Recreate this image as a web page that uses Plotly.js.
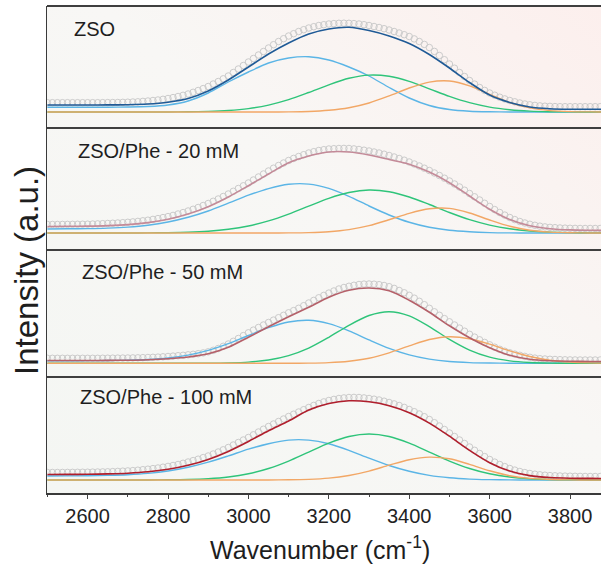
<!DOCTYPE html>
<html>
<head>
<meta charset="utf-8">
<script src="https://cdn.plot.ly/plotly-3.0.1.min.js"></script>
<style>
  html, body { margin: 0; padding: 0; background: #ffffff; }
  #chart { width: 601px; height: 565px; }
</style>
</head>
<body>
<div id="chart"></div>
<script>
// Wavenumber grids (cm^-1): measured points and fitted curves
const wnData = [2500,2512.5,2525,2537.5,2550,2562.5,2575,2587.5,2600,2612.5,2625,2637.5,2650,2662.5,2675,2687.5,
  2700,2712.5,2725,2737.5,2750,2762.5,2775,2787.5,2800,2812.5,2825,2837.5,2850,2862.5,2875,2887.5,
  2900,2912.5,2925,2937.5,2950,2962.5,2975,2987.5,3000,3012.5,3025,3037.5,3050,3062.5,3075,3087.5,
  3100,3112.5,3125,3137.5,3150,3162.5,3175,3187.5,3200,3212.5,3225,3237.5,3250,3262.5,3275,3287.5,
  3300,3312.5,3325,3337.5,3350,3362.5,3375,3387.5,3400,3412.5,3425,3437.5,3450,3462.5,3475,3487.5,
  3500,3512.5,3525,3537.5,3550,3562.5,3575,3587.5,3600,3612.5,3625,3637.5,3650,3662.5,3675,3687.5,
  3700,3712.5,3725,3737.5,3750,3762.5,3775,3787.5,3800,3812.5,3825,3837.5,3850,3862.5,3875];
const wnFit = [2500,2550,2600,2650,2700,2750,2800,2850,2900,2950,3000,3050,3100,3150,3200,3250,3300,3350,3400,3450,
               3500,3550,3600,3650,3700,3750,3800,3850,3900];

const sampleNames = ["ZSO", "ZSO/Phe - 20 mM", "ZSO/Phe - 50 mM", "ZSO/Phe - 100 mM"];
const tickValues = [2600, 2800, 3000, 3200, 3400, 3600, 3800];
const tickLabels = ["2600", "2800", "3000", "3200", "3400", "3600", "3800"];

// ZSO
const zsoData = [9.3,9.3,9.3,9.3,9.3,9.3,9.3,9.3,9.3,9.3,9.3,9.35,9.4,9.45,9.5,9.65,
  9.8,10,10.2,10.6,11,11.5,12,12.7,13.5,14.4,15.5,16.7,18,19.7,21.5,23.4,
  25.5,28,30.5,33.2,36,39.5,43,46.5,50,53.5,57,60.5,64,67.3,70.5,73.3,
  76,78.3,80.5,82.3,84,85.3,86.5,87.3,88,88.4,88.7,88.8,88.7,88.4,88,87.3,
  86.5,85.5,84.5,83.3,82,80.5,79,77.3,75.5,73.1,70.5,67.6,64.5,60.6,56.5,52.3,
  48,43.8,39.5,35.5,31.5,27.9,24.5,21.6,19,16.8,14.8,13.1,11.5,10.2,9,8,
  7.2,6.6,6.1,5.8,5.6,5.4,5.3,5.3,5.3,5.3,5.3,5.3,5.3,5.3,5.3];
const zsoFit = [7,7,7,7.1,7.3,8,9.8,13.5,21,32,45,58,69,78,83,84.7,81.5,76,68.5,57.5,44,29.5,17,9.5,5,3.3,2.8,2.7,2.7];
const zsoPeak1 = [4.7,4.7,4.7,4.8,5.0,5.5,7,11,19,30,40,49,54,55.3,52,45,36,24.5,14,6.5,2.5,0.8,0.2,0,0,0,0,0,0];
const zsoPeak2 = [0,0,0,0,0,0,0,0.2,0.6,1.5,3.4,6.9,12.3,19.5,27.2,33.7,36.9,35.7,30.6,23.2,15.6,9.3,4.9,2.3,0.9,0.3,0.1,0,0];
const zsoPeak3 = [0,0,0,0,0,0,0,0,0,0,0,0,0.1,0.5,1.7,4.2,9.0,16.1,24.0,29.9,31.0,26.1,17.6,9.5,4.1,1.4,0.4,0.1,0];

// ZSO/Phe - 20 mM
const phe20Data = [8.5,8.5,8.5,8.55,8.6,8.65,8.7,8.75,8.8,8.95,9.1,9.3,9.5,9.75,10,10.3,
  10.7,11.1,11.6,12.2,12.8,13.6,14.4,15.4,16.4,17.6,19,20.4,22,23.7,25.5,27.5,
  29.5,31.7,34,36.5,39,41.7,44.5,47.2,50,53,56,59,62,64.8,67.5,70,
  72.5,74.6,76.5,78.3,80,81.3,82.5,83.3,84,84.3,84.5,84.6,84.5,84.1,83.5,82.8,
  82,81,80,78.8,77.5,76,74.5,72.8,71,69,67,64.8,62.5,60,57.5,54.8,
  52,49,46,42.8,39.5,36.2,33,29.7,26.5,23.4,20.5,17.9,15.5,13.4,11.5,10,
  8.7,7.7,6.8,6.1,5.6,5.3,5,4.85,4.7,4.6,4.5,4.5,4.5,4.5,4.5];
const phe20Fit = [6.5,6.7,6.9,7.4,8.4,10.4,13.8,19.0,26.3,36.0,47.3,59.0,70.2,77,81,81,78,73.5,68.8,60.9,50.3,37.0,23.8,13.5,7.3,4.3,3.1,2.7,2.5];
const phe20Peak1 = [4.0,4.2,4.4,4.9,5.9,7.8,11.0,15.7,22.0,29.8,37.8,44.4,48.7,48.9,44.6,36.7,27.0,18.0,10.7,5.7,2.7,1.2,0.4,0.1,0,0,0,0,0];
const phe20Peak2 = [0,0,0,0,0.03,0.1,0.3,0.75,1.75,3.7,7.0,12.1,18.9,26.9,34.7,40.5,43.0,41.3,36.0,28.5,20.5,13.3,7.9,4.2,2.0,0.9,0.4,0.13,0];
const phe20Peak3 = [0,0,0,0,0,0,0,0,0,0,0,0.02,0.1,0.4,1.3,3.4,7.3,13.2,19.6,24.2,24.6,20.0,13.0,6.7,2.8,0.9,0.24,0.05,0];

// ZSO/Phe - 50 mM
const phe50Data = [5,5,5,5,5,5,5,5,5,5,5,5.05,5.1,5.15,5.2,5.25,
  5.3,5.4,5.5,5.65,5.8,6,6.2,6.5,6.8,7.2,7.6,8,8.5,9,9.6,10.4,
  11.5,13,14.8,17,19.3,22,24.8,27.7,30.5,33.2,35.8,38.3,40.8,43.2,45.6,48,
  50.5,52.7,55,57.6,60.3,62.9,65.5,67.9,70.2,72.3,74.3,75.8,77,78,78.8,79.2,
  79.3,79.1,78.6,77.8,76.6,74.9,72.8,70.5,68,65.1,62,58.6,55,51.5,48,44.7,
  41.5,38.3,35.2,32.1,29,26.2,23.5,20.9,18.5,16.1,14,12.1,10.5,9.2,8,6.9,
  6,5.2,4.6,4.3,4,3.8,3.6,3.5,3.4,3.35,3.3,3.3,3.3,3.3,3.3];
const phe50Fit = [2.8,2.8,2.8,2.9,3.1,3.6,4.6,6.3,9.5,16,26,36.5,46.5,56,66,73,75.3,72.5,63,51,37.5,25.5,15.5,8,4,2.5,2,1.8,1.8];
const phe50Peak1 = [2.6,2.6,2.65,2.8,3.1,3.8,5.3,8.2,12.9,19.7,27.8,35.6,41.3,43.0,39.7,32.5,23.4,14.9,8.4,4.2,1.8,0.7,0.24,0.07,0,0,0,0,0];
const phe50Peak2 = [0,0,0,0,0,0,0,0.03,0.1,0.4,1.2,3.3,7.7,15.2,26.0,38.0,47.8,51.6,47.4,36.7,23.9,13.2,6.1,2.4,0.8,0.2,0.05,0,0];
const phe50Peak3 = [0,0,0,0,0,0,0,0,0,0,0,0,0.04,0.19,0.7,2.1,5.1,10.5,17.4,23.8,26.6,24.6,19.1,12.4,6.8,3.1,1.2,0.4,0.1];

// ZSO/Phe - 100 mM
const phe100Data = [7.5,7.5,7.5,7.55,7.6,7.65,7.7,7.75,7.8,7.9,8.0,8.1,8.2,8.4,8.6,8.85,
  9.1,9.4,9.8,10.3,10.8,11.4,12,12.8,13.6,14.5,15.5,16.7,18,19.4,20.8,22.4,
  24,26,28,30.2,32.5,35,37.5,40,42.5,45.2,48,50.8,53.5,56,58.5,61,
  63.5,65.8,68,70.3,72.5,74.6,76.5,78.1,79.5,80.6,81.5,82.1,82.5,82.6,82.5,82.1,
  81.5,80.8,80,78.8,77.5,76.1,74.5,72.6,70.5,68.3,66,63.3,60.5,57.3,54,50.5,
  47,43.5,40,36.5,33,29.7,26.5,23.4,20.5,17.9,15.5,13.4,11.5,9.9,8.5,7.4,
  6.5,5.8,5.2,4.8,4.4,4.2,4,3.9,3.8,3.7,3.6,3.55,3.5,3.5,3.5];
const phe100Fit = [5.5,5.6,5.7,6.1,6.8,8.2,10.7,14.7,20.6,28.6,38.5,49.3,59.0,69.9,76.5,79.2,78.2,74.3,67.3,56.9,43.8,29.6,17.3,8.9,4.4,2.5,1.8,1.6,1.5];
const phe100Peak1 = [4.0,4.1,4.2,4.6,5.3,6.65,9.0,12.7,17.8,24.1,30.8,36.3,39.9,39.9,36.3,29.7,21.8,14.5,8.7,4.6,2.2,0.9,0.36,0.1,0,0,0,0,0];
const phe100Peak2 = [0,0,0,0,0.01,0.06,0.18,0.5,1.3,3.0,6.2,11.5,18.9,27.9,36.8,43.5,46,43.5,36.8,27.9,18.9,11.5,6.2,3.0,1.3,0.5,0.18,0.06,0.01];
const phe100Peak3 = [0,0,0,0,0,0,0,0,0,0,0,0.04,0.18,0.64,1.86,4.5,8.9,14.8,20.3,22.9,21.2,15.7,9.2,4.3,1.6,0.5,0.1,0.02,0];

// Stacked panels, top to bottom
const panels = [
  { name: sampleNames[0], data: zsoData,    fit: zsoFit,    peaks: [zsoPeak1, zsoPeak2, zsoPeak3],          fitColor: "#1f5a96", domain: [0.7495, 1.0],    range: [-16, 106],     label: [0.045, 0.953] },
  { name: sampleNames[1], data: phe20Data,  fit: phe20Fit,  peaks: [phe20Peak1, phe20Peak2, phe20Peak3],    fitColor: "#c48a98", domain: [0.4990, 0.7495], range: [-17, 105],     label: [0.052, 0.702] },
  { name: sampleNames[2], data: phe50Data,  fit: phe50Fit,  peaks: [phe50Peak1, phe50Peak2, phe50Peak3],    fitColor: "#b56069", domain: [0.2382, 0.4990], range: [-13.7, 113.3], label: [0.059, 0.454] },
  { name: sampleNames[3], data: phe100Data, fit: phe100Fit, peaks: [phe100Peak1, phe100Peak2, phe100Peak3], fitColor: "#b01e2c", domain: [0.0, 0.2382],    range: [-13, 103],     label: [0.056, 0.197] }
];
const peakColors = ["#5bb5e6", "#2fc47a", "#f2a766"];

// soft background wash behind the plot area
const bgSvg = "<svg xmlns='http://www.w3.org/2000/svg' width='554' height='487' viewBox='0 0 554 487' preserveAspectRatio='none'>" +
  "<defs><linearGradient id='g' x1='0' y1='1' x2='1' y2='0'>" +
  "<stop offset='0' stop-color='#f4f6f3'/><stop offset='0.55' stop-color='#f8f7f5'/><stop offset='1' stop-color='#fcefed'/>" +
  "</linearGradient></defs><rect width='554' height='487' fill='url(#g)'/></svg>";

const FONT = "Liberation Sans, Arial, Helvetica, sans-serif";
const traces = [];
const layout = {
  width: 601, height: 565,
  margin: { l: 47, r: 0, t: 6, b: 72, pad: 0 },
  paper_bgcolor: "#ffffff",
  plot_bgcolor: "rgba(0,0,0,0)",
  showlegend: false,
  font: { family: FONT, color: "#222222" },
  images: [{
    source: "data:image/svg+xml;charset=utf-8," + encodeURIComponent(bgSvg),
    xref: "paper", yref: "paper", x: 0, y: 1, sizex: 1, sizey: 1,
    xanchor: "left", yanchor: "top", sizing: "stretch", layer: "below"
  }],
  xaxis: {
    domain: [0, 1], range: [2499, 3877], anchor: "y4",
    tickmode: "array", tickvals: tickValues, ticktext: tickLabels,
    ticks: "outside", ticklen: 4, tickwidth: 1, tickcolor: "#444444",
    minor: { ticks: "outside", ticklen: 2.5, tickwidth: 1, tickcolor: "#444444", tickmode: "linear", tick0: 2500, dtick: 100 },
    tickfont: { family: FONT, size: 20, color: "#222222" },
    showline: true, linecolor: "#3a3a3a", linewidth: 1.5,
    showgrid: false, zeroline: false
  },
  shapes: [],
  annotations: []
};

panels.forEach((p, i) => {
  const yName = i === 0 ? "y" : "y" + (i + 1);
  const axKey = i === 0 ? "yaxis" : "yaxis" + (i + 1);
  layout[axKey] = {
    domain: p.domain, range: p.range, anchor: "x",
    showticklabels: false, ticks: "", showgrid: false, zeroline: false,
    showline: true, linecolor: "#3a3a3a", linewidth: 1.5, fixedrange: true
  };
  // measured spectrum
  traces.push({
    type: "scatter", mode: "markers", x: wnData, y: p.data, xaxis: "x", yaxis: yName,
    marker: { symbol: "circle-open", size: 6.5, color: "#cbcbcb", line: { width: 1, color: "#cbcbcb" } },
    hoverinfo: "skip"
  });
  // deconvoluted components
  p.peaks.forEach((pk, k) => {
    traces.push({
      type: "scatter", mode: "lines", x: wnFit, y: pk, xaxis: "x", yaxis: yName,
      line: { color: peakColors[k], width: 1.4, shape: "spline", smoothing: 0.8 },
      hoverinfo: "skip"
    });
  });
  // cumulative fit
  traces.push({
    type: "scatter", mode: "lines", x: wnFit, y: p.fit, xaxis: "x", yaxis: yName,
    line: { color: p.fitColor, width: 1.6, shape: "spline", smoothing: 0.8 },
    hoverinfo: "skip"
  });
  // panel top frame line
  layout.shapes.push({
    type: "line", xref: "paper", yref: "paper", x0: 0, x1: 1, y0: p.domain[1], y1: p.domain[1],
    line: { color: "#3f3f3f", width: 1.8 }
  });
  layout.annotations.push({
    xref: "paper", yref: "paper", x: p.label[0], y: p.label[1],
    xanchor: "left", yanchor: "middle", showarrow: false,
    text: p.name, font: { family: FONT, size: 20, color: "#1e1e1e" }
  });
});

layout.annotations.push({
  xref: "paper", yref: "paper", x: -0.036, y: 0.456, xanchor: "center", yanchor: "middle",
  showarrow: false, textangle: -90, text: "Intensity (a.u.)",
  font: { family: FONT, size: 33, color: "#1e1e1e" }
});
layout.annotations.push({
  xref: "paper", yref: "paper", x: 0.493, y: -0.113, xanchor: "center", yanchor: "middle",
  showarrow: false, text: "Wavenumber (cm<sup>-1</sup>)",
  font: { family: FONT, size: 25, color: "#1e1e1e" }
});

Plotly.newPlot("chart", traces, layout, { displayModeBar: false, staticPlot: true });
</script>
</body>
</html>
